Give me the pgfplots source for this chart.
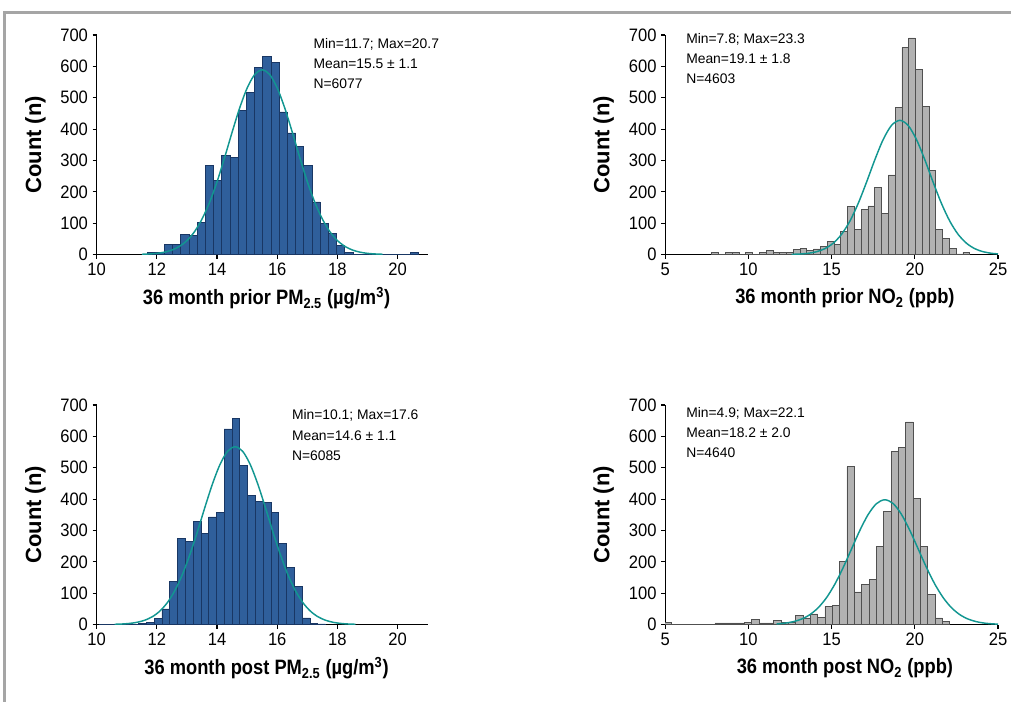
\documentclass[border=0pt]{standalone}
\usepackage{fontspec}
\setmainfont{Liberation Sans}
\newfontfamily\narrow{Liberation Sans}[FakeStretch=0.88]
\newfontfamily\ticknarrow{Liberation Sans}[FakeStretch=0.92]
\usepackage{pgfplots}
\pgfplotsset{compat=1.18}
\definecolor{histblue}{RGB}{47,95,155}
\definecolor{histblueedge}{RGB}{25,55,100}
\definecolor{histgray}{RGB}{178,178,178}
\definecolor{histgrayedge}{RGB}{80,80,80}
\definecolor{fitteal}{RGB}{18,150,145}
\definecolor{framegray}{RGB}{165,165,165}

\pgfplotsset{
  histax/.style={
    scale only axis, anchor=south west,
    axis x line*=bottom, axis y line*=left,
    ymin=0, ymax=700, ytick={0,100,...,700},
    tick align=outside, major tick length=3pt,
    axis line style={line width=0.9pt},
    tick style={line width=0.9pt,black},
    ticklabel style={font=\ticknarrow\fontsize{13.5}{15}\selectfont},
    /pgf/number format/assume math mode=true,
    xlabel style={font=\narrow\bfseries\fontsize{15.6}{17}\selectfont,anchor=center},
    ylabel={Count (n)},
    ylabel style={font=\bfseries\fontsize{16.5}{18}\selectfont,
      at={(axis description cs:-0.185,0.5)},anchor=center},
  },
  pmax/.style={histax, width=248.3pt, height=164.6pt, xmin=10, xmax=21, xtick={10,12,...,20},
    xlabel style={at={(axis description cs:0.513,-0.2)}}},
  noax/.style={histax, width=249.6pt, height=164.6pt, xmin=5, xmax=25, xtick={5,10,...,25},
    xlabel style={at={(axis description cs:0.54,-0.2)}}},
  bluebars/.style={ybar interval, fill=histblue, draw=histblueedge, line width=0.5pt},
  graybars/.style={ybar interval, fill=histgray, draw=histgrayedge, line width=0.5pt},
  fit/.style={fitteal, line width=1.1pt, smooth, no markers},
}

\begin{document}
\begin{tikzpicture}
\useasboundingbox (0,0) rectangle (758.25pt,526.5pt);
\draw[framegray, line width=2.25pt] (3.4pt,0) -- (3.4pt,516.75pt) -- (758.25pt,516.75pt);

% prior PM2.5
\begin{axis}[pmax, at={(72.5pt,335.6pt)}, xlabel={36 month prior PM\textsubscript{2.5} (µg/m\textsuperscript{3})}]
\addplot[bluebars] coordinates {
(11.700,8) (11.973,8) (12.245,33) (12.518,33) (12.791,64) (13.064,60) (13.336,102)
(13.609,285) (13.882,236) (14.155,315) (14.427,309) (14.700,459) (14.973,516)
(15.245,597) (15.518,633) (15.791,612) (16.064,455) (16.336,388) (16.609,344)
(16.882,285) (17.155,168) (17.427,100) (17.700,68) (17.973,30) (18.245,6)
(18.518,0) (18.791,0) (19.064,0) (19.336,0) (19.609,0) (19.882,0) (20.155,0)
(20.427,8) (20.700,0)};
\addplot[fit] coordinates {
(11.5,0.8) (11.75,1.8) (12.0,3.7) (12.25,7.5) (12.5,14.3) (12.75,25.9) (13.0,44.5)
(13.25,72.7) (13.5,113) (13.75,166) (14.0,232) (14.25,309) (14.5,390) (14.75,467)
(15.0,531) (15.25,574) (15.5,589) (15.75,574) (16.0,531) (16.25,467) (16.5,390)
(16.75,309) (17.0,232) (17.25,166) (17.5,113) (17.75,72.7) (18.0,44.5) (18.25,25.9)
(18.5,14.3) (18.75,7.5) (19.0,3.7) (19.25,1.8) (19.5,0.8)};
\end{axis}

% prior NO2
\begin{axis}[noax, at={(498.9pt,335.6pt)}, xlabel={36 month prior NO\textsubscript{2} (ppb)}]
\addplot[graybars] coordinates {
(7.800,8) (8.208,0) (8.616,8) (9.024,8) (9.432,0) (9.839,8) (10.247,0) (10.655,8)
(11.063,14) (11.471,8) (11.879,8) (12.287,8) (12.695,16) (13.103,19) (13.511,14)
(13.918,18) (14.326,27) (14.734,42) (15.142,33) (15.550,75) (15.958,154) (16.366,81)
(16.774,144) (17.182,155) (17.589,213) (17.997,131) (18.405,254) (18.813,468)
(19.221,660) (19.629,691) (20.037,590) (20.445,473) (20.853,267) (21.261,79)
(21.668,52) (22.076,20) (22.484,2) (22.892,8) (23.300,0)};
\addplot[fit] coordinates {
(12.6,0.6) (13.1,1.65) (13.6,4.0) (14.1,9.0) (14.6,18.8) (15.1,36.3) (15.6,64.6)
(16.1,106.7) (16.6,163.2) (17.1,230.9) (17.6,302.5) (18.1,366.8) (18.6,411.8)
(19.1,428) (19.6,411.8) (20.1,366.8) (20.6,302.5) (21.1,230.9) (21.6,163.2)
(22.1,106.7) (22.6,64.6) (23.1,36.3) (23.6,18.8) (24.1,9.0) (24.6,4.0) (25.0,2.0)};
\end{axis}

% post PM2.5
\begin{axis}[pmax, at={(72.5pt,58.1pt)}, xlabel={36 month post PM\textsubscript{2.5} (µg/m\textsuperscript{3})}]
\addplot[bluebars] coordinates {
(10.100,1) (10.359,0) (10.617,0) (10.876,0) (11.134,1) (11.393,3) (11.652,7)
(11.910,20) (12.169,50) (12.428,137) (12.686,274) (12.945,265) (13.203,329)
(13.462,290) (13.721,343) (13.979,358) (14.238,624) (14.497,657) (14.755,507)
(15.014,411) (15.272,392) (15.531,390) (15.790,358) (16.048,260) (16.307,183)
(16.566,122) (16.824,21) (17.083,3) (17.341,2) (17.600,0)};
\addplot[fit] coordinates {
(10.6,0.8) (10.85,1.7) (11.1,3.6) (11.35,7.2) (11.6,13.8) (11.85,24.9) (12.1,42.9)
(12.35,70) (12.6,108.6) (12.85,160) (13.1,224) (13.35,297) (13.6,375) (13.85,449)
(14.1,511) (14.35,552.5) (14.6,567) (14.85,552.5) (15.1,511) (15.35,449) (15.6,375)
(15.85,297) (16.1,224) (16.35,160) (16.6,108.6) (16.85,70) (17.1,42.9) (17.35,24.9)
(17.6,13.8) (17.85,7.2) (18.1,3.6) (18.35,1.7) (18.6,0.8)};
\end{axis}

% post NO2
\begin{axis}[noax, at={(498.9pt,58.1pt)}, xlabel={36 month post NO\textsubscript{2} (ppb)}]
\addplot[graybars] coordinates {
(4.900,6) (5.341,0) (5.782,0) (6.223,0) (6.664,0) (7.105,0) (7.546,0) (7.987,5)
(8.428,5) (8.869,5) (9.310,5) (9.751,8) (10.192,16) (10.633,5) (11.074,5)
(11.515,12) (11.956,7) (12.397,7) (12.838,30) (13.279,21) (13.720,34) (14.161,22)
(14.602,58) (15.043,61) (15.484,200) (15.925,503) (16.366,104) (16.807,128)
(17.248,144) (17.689,250) (18.130,361) (18.571,551) (19.012,565) (19.453,646)
(19.894,401) (20.335,250) (20.776,97) (21.217,21) (21.658,11) (22.099,0)};
\addplot[fit] coordinates {
(11.7,2.0) (12.2,4.4) (12.7,9.1) (13.2,17.5) (13.7,31.7) (14.2,53.9) (14.7,86.1)
(15.2,129.2) (15.7,182.2) (16.2,241.4) (16.7,300.4) (17.2,351.2) (17.7,385.7)
(18.2,398) (18.7,385.7) (19.2,351.2) (19.7,300.4) (20.2,241.4) (20.7,182.2)
(21.2,129.2) (21.7,86.1) (22.2,53.9) (22.7,31.7) (23.2,17.5) (23.7,9.1) (24.2,4.4)
(24.7,2.0) (25.0,1.2)};
\end{axis}

% summary text
\begin{scope}[every node/.style={anchor=base west, inner sep=0pt, font=\fontsize{10.4}{12}\selectfont}]
\node at (235.0pt,489.75pt) {Min=11.7; Max=20.7};
\node at (235.0pt,474.75pt) {Mean=15.5 ± 1.1};
\node at (235.0pt,459.75pt) {N=6077};
\node at (514.5pt,493.5pt) {Min=7.8; Max=23.3};
\node at (514.5pt,478.5pt) {Mean=19.1 ± 1.8};
\node at (514.5pt,463.5pt) {N=4603};
\node at (218.8pt,211.5pt) {Min=10.1; Max=17.6};
\node at (218.8pt,195.75pt) {Mean=14.6 ± 1.1};
\node at (218.8pt,180.75pt) {N=6085};
\node at (514.5pt,213pt) {Min=4.9; Max=22.1};
\node at (514.5pt,198pt) {Mean=18.2 ± 2.0};
\node at (514.5pt,183pt) {N=4640};
\end{scope}
\end{tikzpicture}
\end{document}
